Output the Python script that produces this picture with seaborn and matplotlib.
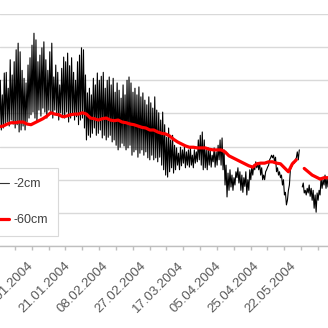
import numpy as np
import pandas as pd
import matplotlib
matplotlib.use("Agg")
import matplotlib.pyplot as plt
from matplotlib.lines import Line2D
import seaborn as sns

# ---- data -------------------------------------------------------------
day_labels = ["02.01.2004", "21.01.2004", "08.02.2004", "27.02.2004",
              "17.03.2004", "05.04.2004", "25.04.2004", "22.05.2004"]
label_days = [0, 19, 38, 57, 76, 95, 114, 133]

first_day = -16  # index of the first daily value (day 0 = 02.01.2004)
gap_day = 136    # missing day (no measurement)

# -2cm: daily maximum and minimum
soil_2cm_high = [
    25.0, 22.8, 26.1, 26.2, 23.8, 28.1, 25.8, 27.8, 29.6, 30.6, 29.3, 26.5, 25.3, 24.6, 27.3, 28.4,
    30.3, 32.1, 31.1, 27.8, 28.8, 29.9, 30.8, 28.1, 26.5, 29.3,
    30.6, 25.5, 27.3, 26.2, 24.3, 26.8, 28.5, 27.8, 29.1, 27.2,
    28.4, 26.2, 25.0, 27.8, 28.8, 29.9, 29.6, 25.8, 23.1, 23.8,
    22.8, 25.3, 24.3, 26.1, 25.0, 25.6, 26.2, 23.8, 25.0, 25.5,
    24.3, 25.3, 23.2, 24.6, 23.5, 22.3, 24.3, 22.8, 25.0, 25.5,
    24.6, 23.2, 23.8, 22.8, 24.0, 22.5, 23.1, 22.0, 21.3, 22.5,
    21.6, 20.8, 22.5, 20.5, 20.1, 19.0, 20.2, 18.3, 16.4, 17.8,
    16.0, 16.7, 15.2, 14.8, 14.0, 14.9, 14.5, 14.9, 14.2, 14.5,
    14.8, 13.7, 14.5, 14.2, 16.0, 16.7, 17.2, 16.0, 14.5, 14.8,
    14.5, 13.7, 14.8, 14.2, 15.2, 16.0, 16.3, 14.5, 12.2, 11.0,
    11.5, 10.7, 10.3, 11.2, 11.8, 11.2, 10.7, 10.3, 11.2, 10.0,
    11.5, 11.9, 12.2, 12.7, 12.5, 12.5, 11.8, 10.7, 11.2, 11.9,
    13.0, 13.7, 13.7, 13.4, 11.8, 11.2, 10.7, 10.0, 8.1, 6.9,
    9.2, 11.9, 12.7, 13.0, 14.2, 14.5, np.nan, 9.5, 8.4, 8.7,
    9.2, 8.7, 8.4, 7.7, 8.0, 8.4, 10.3, 10.0, 10.7, 10.4, 10.0,
]
soil_2cm_low = [
    17.0, 17.5, 17.8, 18.3, 18.7, 18.1, 19.0, 18.4, 17.8, 18.3, 17.2, 17.5, 18.1, 17.5, 18.7, 19.3,
    19.8, 20.2, 19.3, 18.7, 20.5, 19.6, 20.8, 20.2, 19.3, 20.5,
    20.2, 19.3, 20.5, 19.8, 19.0, 20.1, 19.8, 19.3, 20.2, 18.7,
    19.3, 19.8, 19.0, 19.5, 18.3, 19.0, 19.3, 17.8, 16.0, 16.7,
    16.4, 17.0, 17.8, 16.7, 17.0, 17.5, 16.3, 16.7, 16.0, 16.4,
    16.7, 15.7, 16.0, 15.2, 14.5, 14.9, 15.5, 15.1, 14.5, 14.8,
    15.2, 13.7, 14.2, 14.5, 13.4, 14.0, 14.5, 13.7, 14.2, 13.3,
    13.0, 13.7, 13.0, 13.3, 12.7, 13.4, 12.2, 11.5, 10.7, 10.4,
    11.2, 11.8, 11.0, 11.5, 12.2, 11.5, 12.1, 12.5, 11.8, 12.2,
    11.9, 12.2, 11.8, 12.5, 12.7, 13.0, 12.2, 11.5, 11.8, 11.5,
    12.2, 11.9, 12.7, 11.9, 12.2, 13.0, 12.2, 11.5, 9.2, 7.4,
    8.4, 8.9, 8.4, 9.2, 10.3, 9.5, 8.4, 8.1, 9.0, 7.7,
    8.4, 10.0, 10.7, 11.5, 11.8, 11.5, 10.7, 10.0, 10.0, 11.5,
    12.2, 13.3, 13.3, 12.7, 11.2, 10.7, 10.3, 9.2, 7.7, 6.2,
    8.4, 11.5, 12.2, 12.5, 13.3, 13.0, np.nan, 8.9, 8.0, 7.7,
    8.0, 7.5, 6.9, 5.7, 5.1, 6.9, 7.7, 8.7, 9.2, 8.7, 8.9,
]

# -60cm: one value every second day
soil_60cm_step = 2
soil_60cm = [
    18.0, 18.1, 18.4, 18.6, 18.6, 18.7, 18.7, 18.4,
    18.3, 18.6, 18.9, 19.2, 19.6, 20.1, 19.9, 19.8, 19.5, 19.6,
    19.8, 19.9, 19.9, 20.1, 19.9, 19.3, 19.2, 19.0, 19.2, 19.3,
    19.0, 18.9, 19.0, 18.7, 18.6, 18.4, 18.3, 18.1, 17.9, 17.8,
    17.5, 17.5, 17.2, 17.0, 16.9, 16.6, 16.1, 15.7, 15.4, 15.1,
    14.9, 14.9, 14.8, 14.8, 14.8, 14.6, 14.5, 14.5, 14.5, 14.2,
    13.6, 13.3, 13.0, 12.7, 12.4, 12.1, 11.9, 12.4, 12.5, 12.5,
    12.7, 12.7, 12.5, 12.4, 11.8, 11.2, 12.4, 13.0, np.nan, 11.7,
    11.2, 10.7, 10.4, 10.1, 10.3, 10.3,
]

series_names = ["-2cm", "-60cm"]

# ---- build tables -----------------------------------------------------
days = np.arange(first_day, first_day + len(soil_2cm_high))
x2 = np.column_stack([days, days + 0.5]).ravel()
y2 = np.column_stack([soil_2cm_low, soil_2cm_high]).ravel()
df2 = pd.DataFrame({"day": x2, "value": y2})
df2["seg"] = (df2["day"] > gap_day).astype(int)
df2 = df2.dropna()

days60 = np.arange(first_day, first_day + soil_60cm_step * len(soil_60cm), soil_60cm_step)
df60 = pd.DataFrame({"day": days60, "value": soil_60cm})
df60["seg"] = (df60["day"] > gap_day).astype(int)
df60 = df60.dropna()

# ---- plot -------------------------------------------------------------
sns.set_theme(style="white")
plt.rcParams["font.family"] = ["Liberation Sans", "DejaVu Sans"]

fig = plt.figure(figsize=(3.28, 3.28), dpi=100)
ax = fig.add_axes([0, 82 / 328, 1, 232 / 328])

sns.lineplot(data=df2, x="day", y="value", units="seg", estimator=None,
             color="black", lw=0.8, ax=ax, legend=False, zorder=2)
sns.lineplot(data=df60, x="day", y="value", units="seg", estimator=None,
             color="#ff0000", lw=2.3, ax=ax, legend=False, zorder=3)

ax.set_xlim(-15.66, 150.0)
ax.set_ylim(0, 35)
ax.set_yticks(range(0, 36, 5))
ax.yaxis.grid(True, color="#d9d9d9", lw=1)
ax.xaxis.grid(False)
ax.set_axisbelow(True)
ax.set_xlabel("")
ax.set_ylabel("")

for s in ["top", "right", "left"]:
    ax.spines[s].set_visible(False)
ax.spines["bottom"].set_color("#bfbfbf")
ax.spines["bottom"].set_linewidth(1)

ax.tick_params(axis="y", left=False, labelleft=False)
ax.set_xticks(label_days)
ax.set_xticklabels(day_labels, rotation=45, ha="right", va="center",
                   rotation_mode="anchor", fontsize=9.5, color="#595959")
ax.set_xticks(np.arange(-8.1, 151, 8.5), minor=True)
ax.tick_params(axis="x", which="major", length=0, pad=13, bottom=True)
ax.tick_params(axis="x", which="minor", length=3, width=1,
               color="#bfbfbf", bottom=True)

handles = [Line2D([], [], color="#333333", lw=0.8),
           Line2D([], [], color="#ff0000", lw=2.3)]
leg = ax.legend(handles, series_names, loc="upper right",
                bbox_to_anchor=(64 / 328, 1 - 162 / 328),
                bbox_transform=fig.transFigure,
                frameon=True, fancybox=False, framealpha=1,
                edgecolor="#d9d9d9", borderpad=0.8, labelspacing=1.9,
                handlelength=3, handletextpad=0.35, fontsize=9,
                labelcolor="#404040")
leg.get_frame().set_linewidth(0.8)

fig.savefig("out.png", dpi=100, facecolor="white")
